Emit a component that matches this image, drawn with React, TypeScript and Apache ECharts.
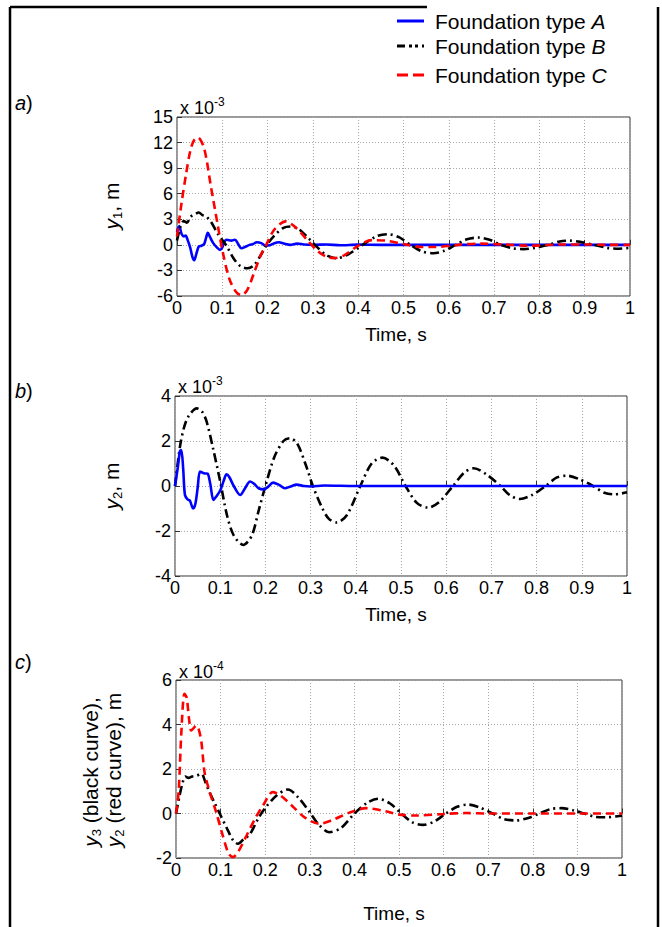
import React, { useEffect, useRef } from 'react';
import * as echarts from 'echarts';

const FONT = '"Liberation Sans", Arial, Helvetica, sans-serif';

// Panel a (values x 1e-3 m)
const aTypeA: [number, number][] = [
  [0, 1.5], [0.005, 2.2], [0.01, 1.3], [0.015, 1.0], [0.019, 1.1], [0.024, 0.5], [0.029, -0.3],
  [0.034, -1.4], [0.038, -1.8], [0.043, -1.0], [0.048, -0.2], [0.054, -0.1], [0.06, 0.1],
  [0.064, 0.8], [0.068, 1.4], [0.073, 0.9], [0.08, 0.2], [0.088, -0.3], [0.095, -0.6],
  [0.1, -0.3], [0.105, 0.4], [0.11, 0.6], [0.12, 0.5], [0.128, 0.6], [0.135, 0.1],
  [0.142, -0.4], [0.152, -0.2], [0.16, 0.0], [0.168, 0.1], [0.176, 0.3], [0.186, 0.2],
  [0.195, -0.1], [0.205, -0.05], [0.215, 0.2], [0.225, 0.3], [0.236, 0.15], [0.25, 0.0],
  [0.265, 0.15], [0.28, 0.05], [0.3, 0.0], [0.33, 0.05], [0.36, -0.05], [0.4, 0.03],
  [0.45, 0], [0.5, 0], [0.6, 0], [0.7, 0], [0.8, 0], [0.9, 0], [1, 0],
];
const aTypeB: [number, number][] = [
  [0, 0.5], [0.008, 2.2], [0.015, 2.8], [0.022, 2.6], [0.03, 3.3], [0.04, 3.6], [0.048, 3.8],
  [0.056, 3.5], [0.065, 3.3], [0.075, 2.7], [0.09, 1.3], [0.108, 0], [0.125, -1.6], [0.14, -2.5],
  [0.156, -2.75], [0.17, -2.4], [0.185, -1.2], [0.197, -0.1], [0.215, 1.1], [0.235, 2.0],
  [0.252, 2.15], [0.27, 1.8], [0.29, 0.8], [0.31, -0.3], [0.33, -1.2], [0.352, -1.57],
  [0.375, -1.2], [0.41, 0], [0.44, 1.0], [0.466, 1.25], [0.49, 0.9], [0.515, 0], [0.54, -0.75],
  [0.566, -0.98], [0.59, -0.7], [0.615, 0], [0.64, 0.65], [0.665, 0.86], [0.69, 0.6],
  [0.715, 0], [0.74, -0.4], [0.765, -0.5], [0.79, -0.35], [0.82, 0], [0.845, 0.4],
  [0.867, 0.5], [0.89, 0.35], [0.92, 0], [0.95, -0.35], [0.975, -0.45], [1, -0.35],
];
const aTypeC: [number, number][] = [
  [0, 1.0], [0.01, 4.9], [0.02, 8.3], [0.03, 11.2], [0.038, 12.3], [0.046, 12.6], [0.06, 11.3],
  [0.075, 6.8], [0.09, 2.3], [0.1, -0.6], [0.115, -3.9], [0.13, -5.5], [0.142, -5.9],
  [0.155, -5.3], [0.17, -3.3], [0.185, -1.2], [0.197, 0], [0.215, 1.8], [0.24, 2.75],
  [0.265, 1.9], [0.29, 0.4], [0.31, -0.7], [0.33, -1.4], [0.348, -1.55], [0.37, -1.2],
  [0.4, -0.1], [0.43, 0.55], [0.46, 0.5], [0.5, 0.1], [0.54, -0.25], [0.57, -0.25],
  [0.62, 0], [0.67, 0.15], [0.72, 0.05], [0.78, -0.1], [0.85, 0.05], [0.9, 0.05],
  [0.95, 0], [1, 0],
];

// Panel b (values x 1e-3 m)
const bTypeA: [number, number][] = [
  [0, 0], [0.006, 0.8], [0.011, 1.55], [0.014, 1.6], [0.018, 0.8], [0.022, -0.4],
  [0.028, -0.6], [0.033, -0.65], [0.04, -1.0], [0.045, -0.8], [0.05, -0.1], [0.055, 0.64],
  [0.06, 0.6], [0.066, 0.56], [0.072, 0.55], [0.078, 0.1], [0.085, -0.62], [0.092, -0.45],
  [0.1, -0.2], [0.108, 0.25], [0.114, 0.52], [0.12, 0.4], [0.13, 0.0], [0.144, -0.4],
  [0.155, -0.1], [0.166, 0.2], [0.175, 0.1], [0.185, -0.1], [0.197, -0.15], [0.205, -0.05],
  [0.217, 0.15], [0.23, 0.05], [0.243, -0.1], [0.256, -0.02], [0.269, 0.06], [0.285, 0.0],
  [0.3, -0.02], [0.33, 0.02], [0.4, 0], [0.5, 0], [0.6, 0], [0.7, 0], [0.8, 0], [0.9, 0], [1, 0],
];
const bTypeB: [number, number][] = [
  [0, 0], [0.011, 1.75], [0.02, 2.6], [0.03, 3.1], [0.048, 3.45], [0.06, 3.3], [0.07, 2.86],
  [0.085, 1.6], [0.1, 0.2], [0.115, -1.3], [0.13, -2.2], [0.151, -2.62], [0.17, -2.2],
  [0.185, -1.1], [0.2, 0], [0.22, 1.3], [0.24, 2.0], [0.254, 2.12], [0.27, 1.9], [0.29, 0.9],
  [0.305, 0], [0.325, -0.95], [0.34, -1.45], [0.358, -1.62], [0.38, -1.3], [0.41, 0],
  [0.435, 1.0], [0.459, 1.26], [0.485, 0.9], [0.51, 0], [0.535, -0.75], [0.56, -0.96],
  [0.585, -0.7], [0.615, 0], [0.64, 0.6], [0.661, 0.79], [0.69, 0.5], [0.72, 0], [0.74, -0.4],
  [0.763, -0.58], [0.79, -0.4], [0.82, 0], [0.845, 0.38], [0.867, 0.46], [0.895, 0.3],
  [0.925, 0], [0.95, -0.3], [0.973, -0.37], [1, -0.28],
];

// Panel c (values x 1e-4 m)
const cBlack: [number, number][] = [
  [0, 0], [0.008, 0.8], [0.015, 1.4], [0.021, 1.66], [0.028, 1.6], [0.036, 1.66], [0.046, 1.7],
  [0.057, 1.78], [0.066, 1.4], [0.075, 0.96], [0.086, 0.5], [0.098, 0], [0.115, -0.7],
  [0.128, -1.2], [0.139, -1.36], [0.152, -1.15], [0.165, -0.95], [0.185, -0.2], [0.2, 0.25],
  [0.225, 0.8], [0.251, 1.08], [0.275, 0.7], [0.3, 0.05], [0.32, -0.5], [0.344, -0.84],
  [0.37, -0.65], [0.4, 0], [0.43, 0.5], [0.453, 0.66], [0.48, 0.45], [0.505, 0], [0.53, -0.4],
  [0.554, -0.51], [0.58, -0.35], [0.605, 0], [0.63, 0.3], [0.655, 0.4], [0.68, 0.28], [0.71, 0],
  [0.735, -0.25], [0.763, -0.31], [0.79, -0.2], [0.815, 0], [0.84, 0.2], [0.864, 0.24],
  [0.89, 0.15], [0.915, 0], [0.94, -0.15], [0.965, -0.17], [0.99, -0.12], [1, -0.1],
];
const cRed: [number, number][] = [
  [0, 0], [0.006, 1.0], [0.012, 3.65], [0.019, 5.38], [0.024, 5.2], [0.029, 4.3], [0.034, 3.73],
  [0.04, 3.85], [0.045, 3.95], [0.05, 3.85], [0.057, 3.2], [0.064, 1.86], [0.075, 1.0],
  [0.09, 0.06], [0.105, -1.0], [0.118, -1.8], [0.128, -1.96], [0.14, -1.7], [0.158, -1.0],
  [0.178, -0.2], [0.195, 0.36], [0.217, 0.96], [0.235, 0.8], [0.26, 0.35], [0.29, -0.2],
  [0.322, -0.46], [0.35, -0.3], [0.39, 0.05], [0.427, 0.24], [0.47, 0.1], [0.5, -0.05],
  [0.539, -0.09], [0.6, -0.02], [0.65, 0.02], [0.7, 0], [0.8, 0], [0.9, 0], [1, 0],
];

const yRanges = [
  { min: -6, max: 15, interval: 3 },
  { min: -4, max: 4, interval: 2 },
  { min: -2, max: 6, interval: 2 },
];
const exponents = ['-3', '-3', '-4'];

const grids = [
  { left: 177, top: 117, width: 453, height: 179 },
  { left: 175, top: 396, width: 452, height: 180 },
  { left: 176, top: 680, width: 446, height: 178 },
];

const BLUE = '#0000ff';
const RED = '#ff0000';
const BLACK = '#000000';
const DASH_DOT = [9, 4, 2, 4];
const DASH = [8, 5];

export default function App() {
  const ref = useRef<HTMLDivElement>(null);
  useEffect(() => {
    const chart = echarts.init(ref.current!, null, { renderer: 'svg' });

    const xAxis = grids.map((_, i) => ({
      gridIndex: i,
      type: 'value',
      min: 0,
      max: 1,
      interval: 0.1,
      axisLine: { show: false },
      axisTick: { show: true, inside: true, length: 5, lineStyle: { color: '#333' } },
      splitLine: { show: true, lineStyle: { color: '#a8a8a8', type: [1, 2], width: 1 } },
      axisLabel: {
        show: true,
        fontSize: 18,
        color: '#000',
        fontFamily: FONT,
        margin: 3,
        showMinLabel: true,
        showMaxLabel: true,
        formatter: (v: number) => (Math.abs(v) < 1e-9 ? '0' : Math.abs(v - 1) < 1e-9 ? '1' : v.toFixed(1)),
      },
    }));

    const yAxis = yRanges.map((r, i) => ({
      gridIndex: i,
      type: 'value',
      min: r.min,
      max: r.max,
      interval: r.interval,
      axisLine: { show: false },
      axisTick: { show: true, inside: true, length: 5, lineStyle: { color: '#333' } },
      splitLine: { show: true, lineStyle: { color: '#a8a8a8', type: [1, 2], width: 1 } },
      axisLabel: {
        show: true,
        fontSize: 18,
        color: '#000',
        fontFamily: FONT,
        margin: 4,
        showMinLabel: true,
        showMaxLabel: true,
        formatter: (v: number) => String(Math.round(v)),
      },
    }));

    const line = (data: [number, number][], idx: number, color: string, type: any, z: number) => ({
      type: 'line',
      xAxisIndex: idx,
      yAxisIndex: idx,
      data,
      showSymbol: false,
      smooth: 0.3,
      z,
      lineStyle: { color, width: 2.6, type },
    });

    const series = [
      line(aTypeA, 0, BLUE, 'solid', 2),
      line(aTypeB, 0, BLACK, DASH_DOT, 3),
      line(aTypeC, 0, RED, DASH, 4),
      line(bTypeA, 1, BLUE, 'solid', 3),
      line(bTypeB, 1, BLACK, DASH_DOT, 2),
      line(cBlack, 2, BLACK, DASH_DOT, 2),
      line(cRed, 2, RED, DASH, 3),
    ];

    const richBase = (size: number) => ({
      n: { fontSize: size, fontFamily: FONT, fill: '#000', lineHeight: size + 4 },
      i: { fontSize: size, fontFamily: FONT, fontStyle: 'italic', fill: '#000', lineHeight: size + 4 },
      s: { fontSize: Math.round(size * 0.62), fontFamily: FONT, fill: '#000', verticalAlign: 'bottom', lineHeight: Math.round(size * 0.62) },
    });

    const txt = (x: number, y: number, text: string, size: number, align: string, vAlign: string, extra: any = {}) => ({
      type: 'text',
      x,
      y,
      silent: true,
      ...extra,
      style: {
        text,
        fontSize: size,
        fontFamily: FONT,
        fill: '#000',
        align,
        textAlign: align,
        verticalAlign: vAlign,
        textVerticalAlign: vAlign,
        rich: richBase(size),
        ...(extra.style || {}),
      },
    });

    const graphic: any[] = [];
    // figure frame
    const frame = { stroke: '#000', lineWidth: 2.5 };
    graphic.push({ type: 'line', shape: { x1: 10, y1: 7, x2: 10, y2: 927 }, style: frame, silent: true });
    graphic.push({ type: 'line', shape: { x1: 10, y1: 7, x2: 427, y2: 7 }, style: frame, silent: true });
    graphic.push({ type: 'line', shape: { x1: 658, y1: 7, x2: 658, y2: 927 }, style: frame, silent: true });

    // legend
    const legendRows = [
      { y: 21, label: 'A', color: BLUE, dash: null as any },
      { y: 46, label: 'B', color: BLACK, dash: [8, 4, 3, 3, 3, 4] },
      { y: 75, label: 'C', color: RED, dash: [11, 5] },
    ];
    legendRows.forEach((r) => {
      graphic.push({
        type: 'line',
        silent: true,
        shape: { x1: 397, y1: r.y, x2: 424, y2: r.y },
        style: { stroke: r.color, lineWidth: 3, lineDash: r.dash || undefined },
      });
      graphic.push(txt(435, r.y, `{n|Foundation type }{i|${r.label}}`, 21, 'left', 'middle'));
    });

    // panel letters
    graphic.push(txt(15, 103, '{i|a}{n|)}', 20, 'left', 'middle'));
    graphic.push(txt(15, 391, '{i|b}{n|)}', 20, 'left', 'middle'));
    graphic.push(txt(15, 662, '{i|c}{n|)}', 20, 'left', 'middle'));

    // exponent labels
    const expY = [0, 0, 1];
    grids.forEach((g, i) => {
      graphic.push(txt(g.left + 3, g.top + expY[i], 'x 10', 18, 'left', 'bottom', { style: { rich: undefined } }));
      graphic.push(txt(g.left + 37, g.top + expY[i] - 9, exponents[i], 12, 'left', 'bottom', { style: { rich: undefined } }));
    });

    // y axis names
    graphic.push(txt(111, 206, '{i|y}{s|1}{n|, m}', 21, 'center', 'middle', { rotation: Math.PI / 2 }));
    graphic.push(txt(111, 486, '{i|y}{s|2}{n|, m}', 21, 'center', 'middle', { rotation: Math.PI / 2 }));
    graphic.push(txt(90, 772, '{i|y}{s|3}{n| (black curve),}', 21, 'center', 'middle', { rotation: Math.PI / 2 }));
    graphic.push(txt(113, 770, '{i|y}{s|2}{n| (red curve), m}', 21, 'center', 'middle', { rotation: Math.PI / 2 }));

    // x axis names
    graphic.push(txt(396, 334, 'Time, s', 19, 'center', 'middle', { style: { rich: undefined } }));
    graphic.push(txt(396, 614, 'Time, s', 19, 'center', 'middle', { style: { rich: undefined } }));
    graphic.push(txt(394, 913, 'Time, s', 19, 'center', 'middle', { style: { rich: undefined } }));

    chart.setOption({
      animation: false,
      backgroundColor: '#ffffff',
      grid: grids.map((g) => ({ ...g, show: true, borderColor: '#333', borderWidth: 1, backgroundColor: 'transparent' })),
      xAxis,
      yAxis,
      series,
      graphic,
    });

    return () => chart.dispose();
  }, []);

  return (
    <div
      ref={ref}
      style={{ position: 'absolute', left: 0, top: 0, width: 662, height: 927, background: '#fff' }}
    />
  );
}
